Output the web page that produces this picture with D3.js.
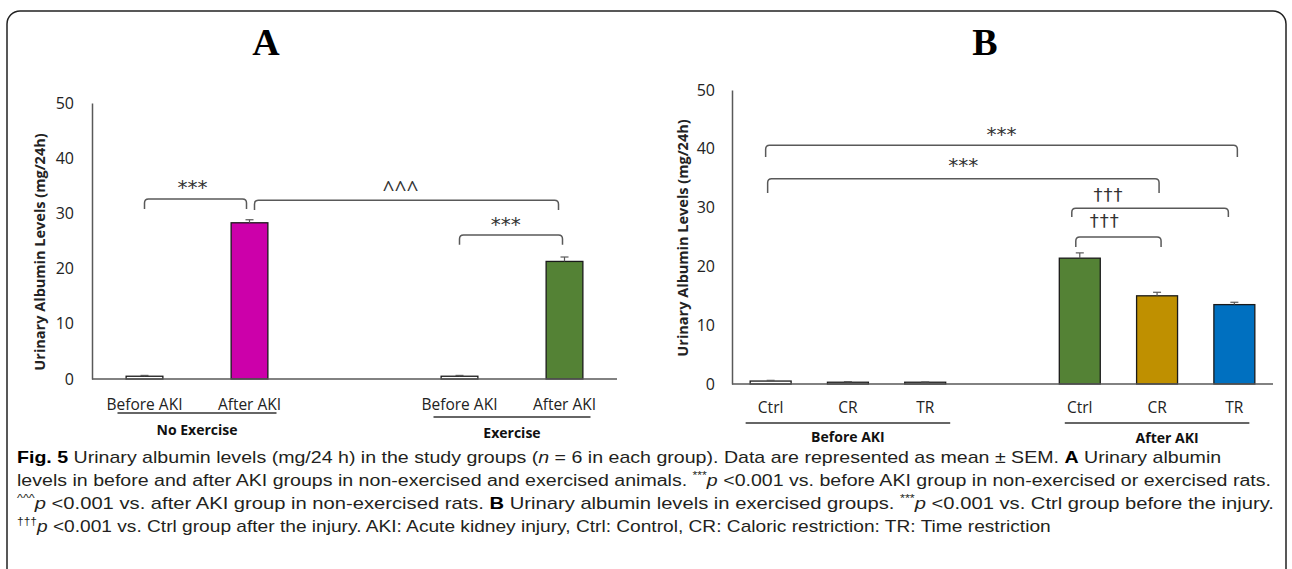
<!DOCTYPE html>
<html>
<head>
<meta charset="utf-8">
<script src="https://cdn.jsdelivr.net/npm/d3@7"></script>
<style>
  body { margin: 0; background: #fff; }
  svg { display: block; }
</style>
</head>
<body>
<div id="chart"></div>
<script>
const W = 1292, H = 569
const FONT = "'Open Sans', sans-serif"
const AXIS_COLOR = "#595959"

// Panel A data
const aKeys = ["noex_before", "noex_after", "gap", "ex_before", "ex_after"]
const aLabels = ["Before AKI", "After AKI", "", "Before AKI", "After AKI"]
const aMeans = [0.5, 28.3, null, 0.5, 21.3]
const aSems = [0.15, 0.55, null, 0.15, 0.8]
const aColors = ["#ffffff", "#cc00aa", null, "#ffffff", "#548235"]
const aGroups = [
  { name: "No Exercise", keys: ["noex_before", "noex_after"] },
  { name: "Exercise", keys: ["ex_before", "ex_after"] },
]
const aBrackets = [
  { from: "noex_before", to: "noex_after", top: 32.6, bottom: 30.8, label: "***" },
  { from: "noex_after", to: "ex_after", top: 32.4, bottom: 30.6, label: "^^^" },
  { from: "ex_before", to: "ex_after", top: 26.1, bottom: 24.3, label: "***" },
]

// Panel B data
const bKeys = ["b_ctrl", "b_cr", "b_tr", "gap", "a_ctrl", "a_cr", "a_tr"]
const bLabels = ["Ctrl", "CR", "TR", "", "Ctrl", "CR", "TR"]
const bMeans = [0.5, 0.3, 0.3, null, 21.4, 15.0, 13.5]
const bSems = [0.12, 0.1, 0.05, null, 0.9, 0.6, 0.4]
const bColors = ["#ffffff", "#ffffff", "#ffffff", null, "#548235", "#bf9000", "#0070c0"]
const bGroups = [
  { name: "Before AKI", keys: ["b_ctrl", "b_tr"] },
  { name: "After AKI", keys: ["a_ctrl", "a_tr"] },
]
const bBrackets = [
  { from: "b_ctrl", to: "a_tr", top: 40.6, bottom: 38.6, label: "***" },
  { from: "b_ctrl", to: "a_cr", top: 34.9, bottom: 32.5, label: "***" },
  { from: "a_ctrl", to: "a_tr", top: 29.9, bottom: 28.4, label: "†††" },
  { from: "a_ctrl", to: "a_cr", top: 25.0, bottom: 23.3, label: "†††" },
]

const yTicks = [0, 10, 20, 30, 40, 50]
const yLabel = "Urinary Albumin Levels (mg/24h)"

// glyph styling for significance marks: font, size, centre height above baseline (em)
const MARK_STYLE = {
  "*": { font: "'DejaVu Sans', sans-serif", size: 20, center: 0.47, spacing: 0 },
  "^": { font: FONT, size: 21, center: 0.5, spacing: 0 },
  "†": { font: "'DejaVu Sans', sans-serif", size: 18, center: 0.42, spacing: 1 },
}

// layout per panel (pixels)
const panelA = {
  title: "A", titleX: 266,
  keys: aKeys, labels: aLabels, means: aMeans, sems: aSems, colors: aColors,
  groups: aGroups, brackets: aBrackets,
  x0: 92, x1: 617, yBottom: 379, yTop: 103, padding: 0.65,
  tickRight: 74, yLabelX: 39, yLabelY: 252,
  catY: 410, groupLineY: [413, 417], groupTextY: [435, 438], groupPad: [27, 26], groupShift: [0, 0],
  bracketShift: [[0, -3], [5, -6], [0, -2]], labelFrac: [0.47, 0.48, 0.45],
  labelGap: [14, 14, 13],
}
const panelB = {
  title: "B", titleX: 985,
  keys: bKeys, labels: bLabels, means: bMeans, sems: bSems, colors: bColors,
  groups: bGroups, brackets: bBrackets,
  x0: 732, x1: 1273, yBottom: 384, yTop: 90, padding: 0.47,
  tickRight: 715, yLabelX: 682, yLabelY: 238,
  catY: 413, groupLineY: [423, 423], groupTextY: [442, 443], groupPad: [25, 15], groupShift: [0, 10],
  bracketShift: [[-5, 3], [-3, 2], [-8, -6], [-4, 4]], labelFrac: [0.5, 0.5, 0.235, 0.34],
  labelGap: [14, 16, 15, 18],
}

const svg = d3.select("#chart").append("svg")
  .attr("width", W).attr("height", H)

// rounded frame
svg.append("rect")
  .attr("x", 7).attr("y", 11)
  .attr("width", 1279).attr("height", 620)
  .attr("rx", 13)
  .attr("fill", "none")
  .attr("stroke", "#222")
  .attr("stroke-width", 1.5)

drawPanel(panelA)
drawPanel(panelB)
drawCaption()

function drawPanel(p) {
  const g = svg.append("g")

  const x = d3.scaleBand().domain(p.keys).range([p.x0, p.x1]).paddingInner(p.padding).paddingOuter(p.padding / 2)
  const y = d3.scaleLinear().domain([0, 50]).range([p.yBottom, p.yTop])
  const cx = k => x(k) + x.bandwidth() / 2

  const rows = p.keys.map((k, i) => ({
    key: k, label: p.labels[i], mean: p.means[i], sem: p.sems[i], color: p.colors[i],
  })).filter(d => d.mean !== null)

  g.append("text")
    .attr("x", p.titleX).attr("y", 55)
    .attr("text-anchor", "middle")
    .style("font-family", "'Liberation Serif', serif")
    .style("font-weight", "bold")
    .style("font-size", "38px")
    .text(p.title)

  // y axis
  const yAxis = g.append("g")
    .attr("transform", `translate(${p.x0},0)`)
    .call(d3.axisLeft(y).tickValues(yTicks).tickSize(0).tickPadding(p.x0 - p.tickRight))
  yAxis.select(".domain").attr("stroke", AXIS_COLOR).attr("stroke-width", 1.5)
  yAxis.selectAll("text")
    .style("font-family", FONT).style("font-size", "16px").attr("fill", "#222")

  g.append("text")
    .attr("transform", `translate(${p.yLabelX},${p.yLabelY}) rotate(-90)`)
    .attr("text-anchor", "middle")
    .attr("dominant-baseline", "central")
    .style("font-family", FONT).style("font-weight", "bold").style("font-size", "14.5px")
    .attr("fill", "#222")
    .text(yLabel)

  // bars
  g.selectAll(".bar").data(rows).enter()
    .append("rect")
    .attr("x", d => x(d.key))
    .attr("y", d => y(d.mean))
    .attr("width", x.bandwidth())
    .attr("height", d => y(0) - y(d.mean))
    .attr("fill", d => d.color)
    .attr("stroke", "#1a1a1a")
    .attr("stroke-width", 1.3)

  // error bars
  const err = g.selectAll(".err").data(rows).enter().append("g").attr("stroke", AXIS_COLOR).attr("stroke-width", 1.2)
  err.append("line")
    .attr("x1", d => cx(d.key)).attr("x2", d => cx(d.key))
    .attr("y1", d => y(d.mean)).attr("y2", d => y(d.mean + d.sem))
  err.append("line")
    .attr("x1", d => cx(d.key) - 4).attr("x2", d => cx(d.key) + 4)
    .attr("y1", d => y(d.mean + d.sem)).attr("y2", d => y(d.mean + d.sem))

  // x axis line
  g.append("line")
    .attr("x1", p.x0).attr("x2", p.x1)
    .attr("y1", y(0)).attr("y2", y(0))
    .attr("stroke", AXIS_COLOR).attr("stroke-width", 1.5)

  // category labels
  g.selectAll(".cat").data(rows).enter()
    .append("text")
    .attr("x", d => cx(d.key)).attr("y", p.catY)
    .attr("text-anchor", "middle")
    .style("font-family", FONT).style("font-size", "15.5px")
    .attr("fill", "#222")
    .text(d => d.label)

  // group underline + name
  p.groups.forEach((grp, i) => {
    const gx0 = cx(grp.keys[0]) - p.groupPad[i]
    const gx1 = cx(grp.keys[1]) + p.groupPad[i]
    g.append("line")
      .attr("x1", gx0).attr("x2", gx1)
      .attr("y1", p.groupLineY[i]).attr("y2", p.groupLineY[i])
      .attr("stroke", "#333").attr("stroke-width", 1.5)
    g.append("text")
      .attr("x", (gx0 + gx1) / 2 + p.groupShift[i]).attr("y", p.groupTextY[i])
      .attr("text-anchor", "middle")
      .style("font-family", FONT).style("font-weight", "bold").style("font-size", "14px")
      .attr("fill", "#111")
      .text(grp.name)
  })

  // significance brackets
  p.brackets.forEach((b, i) => {
    const bx0 = cx(b.from) + p.bracketShift[i][0]
    const bx1 = cx(b.to) + p.bracketShift[i][1]
    const yt = y(b.top), yb = y(b.bottom), r = 4
    const path = d3.path()
    path.moveTo(bx0, yb)
    path.lineTo(bx0, yt + r)
    path.quadraticCurveTo(bx0, yt, bx0 + r, yt)
    path.lineTo(bx1 - r, yt)
    path.quadraticCurveTo(bx1, yt, bx1, yt + r)
    path.lineTo(bx1, yb)
    g.append("path")
      .attr("d", path.toString())
      .attr("fill", "none")
      .attr("stroke", AXIS_COLOR)
      .attr("stroke-width", 1.5)
    const ms = MARK_STYLE[b.label[0]]
    g.append("text")
      .attr("x", bx0 + (bx1 - bx0) * p.labelFrac[i])
      .attr("y", yt - p.labelGap[i] + ms.size * ms.center)
      .attr("text-anchor", "middle")
      .style("font-family", ms.font)
      .style("font-size", ms.size + "px")
      .style("letter-spacing", ms.spacing + "px")
      .attr("fill", "#333")
      .text(b.label)
  })
}

function drawCaption() {
  const lines = [
    { width: 1205, parts: [["b", "Fig. 5"], ["", " Urinary albumin levels (mg/24 h) in the study groups ("], ["i", "n"], ["", " = 6 in each group). Data are represented as mean ± SEM. "], ["b", "A"], ["", " Urinary albumin"]] },
    { width: 1254, parts: [["", "levels in before and after AKI groups in non-exercised and exercised animals. "], ["s", "***"], ["i", "p"], ["", " <0.001 vs. before AKI group in non-exercised or exercised rats."]] },
    { width: 1258, parts: [["s", "^^^"], ["i", "p"], ["", " <0.001 vs. after AKI group in non-exercised rats. "], ["b", "B"], ["", " Urinary albumin levels in exercised groups. "], ["s", "***"], ["i", "p"], ["", " <0.001 vs. Ctrl group before the injury."]] },
    { width: 1035, parts: [["s", "†††"], ["i", "p"], ["", " <0.001 vs. Ctrl group after the injury. AKI: Acute kidney injury, Ctrl: Control, CR: Caloric restriction: TR: Time restriction"]] },
  ]
  const baselines = [463, 486, 509, 532]
  const left = 17

  lines.forEach((ln, i) => {
    const t = svg.append("text")
      .attr("x", left).attr("y", baselines[i])
      .style("font-family", "'Liberation Sans', sans-serif").style("font-size", "16px")
      .attr("fill", "#231f20")
    let afterSup = false
    ln.parts.forEach(([kind, str]) => {
      const ts = t.append("tspan").text(str)
      if (kind === "b") ts.style("font-weight", "bold").attr("fill", "#000")
      if (kind === "i") ts.style("font-style", "italic")
      if (kind === "s") ts.style("font-size", "10px").attr("dy", -7)
      if (kind !== "s" && afterSup) ts.attr("dy", 7)
      afterSup = kind === "s"
    })
    const natural = t.node().getComputedTextLength()
    t.attr("transform", `translate(${left},0) scale(${ln.width / natural},1) translate(${-left},0)`)
  })
}
</script>
</body>
</html>
